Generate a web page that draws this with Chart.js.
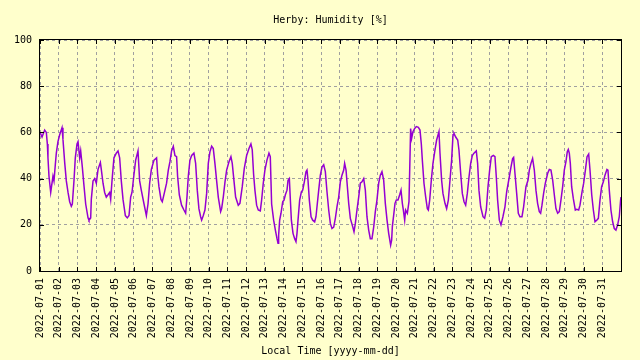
<!DOCTYPE html>
<html lang="en">
<head>
<meta charset="UTF-8">
<title>Herby: Humidity</title>
<script src="https://cdn.jsdelivr.net/npm/chart.js"></script>
<style>
  html, body { margin: 0; padding: 0; background: #ffffcc; }
  #wrap { width: 640px; height: 360px; }
</style>
</head>
<body>
<div id="wrap"><canvas id="humidityChart" width="640" height="360"></canvas></div>
<script>
// tick labels, one per day (x axis is in hours since 2022-07-01 00:00)
const dayLabels = [
  '2022-07-01', '2022-07-02', '2022-07-03', '2022-07-04', '2022-07-05', '2022-07-06',
  '2022-07-07', '2022-07-08', '2022-07-09', '2022-07-10', '2022-07-11', '2022-07-12',
  '2022-07-13', '2022-07-14', '2022-07-15', '2022-07-16', '2022-07-17', '2022-07-18',
  '2022-07-19', '2022-07-20', '2022-07-21', '2022-07-22', '2022-07-23', '2022-07-24',
  '2022-07-25', '2022-07-26', '2022-07-27', '2022-07-28', '2022-07-29', '2022-07-30',
  '2022-07-31'
];

// readings: hour offset and relative humidity [%]
const hours = [
  0, 2.6, 6.0, 8.1, 9.4, 10.2, 11.5, 13.7, 16.6, 17.9, 19.6, 20.9, 23.0, 25.2, 28.2, 29.4,
  31.6, 33.7, 35.9, 38.0, 40.1, 41.4, 43.5, 45.2, 47.4, 48.7, 50.8, 52.1, 54.2, 56.3, 58.5,
  61.5, 62.7, 64.9, 65.7, 67.9, 70.0, 72.1, 74.3, 77.3, 78.5, 80.7, 82.8, 84.9, 87.1, 89.2,
  90.5, 92.2, 94.7, 97.7, 99.9, 102.0, 104.1, 106.3, 109.3, 111.8, 114.0, 116.1, 117.8,
  120.4, 122.5, 125.5, 127.6, 129.7, 133.2, 136.2, 138.3, 140.4, 142.6, 146.0,
  147.2, 149.3, 150.6, 152.3, 154.9, 156.6, 159.1, 162.1, 164.3, 166.4, 168.5, 170.7, 172.8,
  174.9, 176.2, 178.4, 181.3, 184.3, 186.5, 188.2, 189.9, 192.0, 194.2, 197.1, 199.3, 201.4,
  203.5, 205.7, 207.0, 209.1, 211.2, 213.4, 215.5, 217.6, 219.8, 221.9, 224.0, 226.2, 228.3,
  231.3, 232.6, 234.7, 236.9, 239.0, 242.0, 244.5, 246.2, 248.4, 250.5, 253.9, 256.0, 259.0,
  261.6, 264.6, 267.6, 270.1, 271.8, 273.5, 275.2, 277.4, 279.5, 282.1, 283.8, 285.9, 288.0,
  290.6, 293.2, 294.9, 296.6,
  299.2, 301.4, 303.5, 304.8, 305.6, 306.9, 308.6, 310.8, 312.5, 314.2, 316.3, 317.6, 319.3,
  320.6, 321.9, 324.0, 326.1, 327.8, 329.1, 330.4, 332.5, 334.7, 336.4, 338.5, 340.6, 341.9,
  343.2, 344.9, 347.1, 349.2, 351.7, 353.4, 354.7, 356.9, 359.0, 361.1, 363.3, 365.4, 367.5,
  369.7, 371.8, 373.9, 376.1, 378.2, 380.3, 382.5, 384.6, 386.7, 388.9, 390.1, 391.9, 393.6,
  395.3, 397.4, 400.4, 402.1, 403.8, 405.9, 408.1, 410.2, 412.3, 414.5, 416.6, 418.7, 420.9,
  423.0, 425.1, 427.3, 429.4, 431.5, 433.7, 435.8, 437.9, 440.1, 442.2, 444.4, 446.5,
  449.0, 450.3, 451.2, 452.9, 454.6, 456.3, 458.4, 460.6, 462.3, 464.0, 465.3, 467.0, 468.2,
  470.4, 472.5, 473.8, 474.6, 475.9, 477.6, 479.8, 481.9, 484.5, 486.6, 488.3, 489.6, 491.7,
  493.9, 496.0, 497.3, 499.0, 501.1, 503.2, 505.8, 507.9, 510.9, 512.2, 514.3, 516.0, 518.6,
  520.7, 522.9, 525.0, 527.1, 528.9, 530.1, 532.3, 534.9, 536.5, 538.7, 540.8, 543.0, 545.1,
  547.2, 549.4, 551.5, 553.6, 555.7, 558.7, 560.4, 562.1, 564.3, 567.3, 569.4, 571.5, 573.7,
  575.8, 577.9, 580.5, 582.6, 584.3, 586.0, 588.2, 590.3, 592.8, 595.4, 597.6,
  601.0, 603.1, 605.2, 606.5, 608.2, 610.4, 612.5, 614.6, 617.2, 619.3, 622.3, 624.9, 626.6,
  628.7, 630.8, 633.0, 635.1, 637.2, 639.4, 641.1, 642.8, 644.9, 647.1, 650.1, 652.2, 654.3,
  656.5, 658.6, 660.7, 662.9, 665.0, 667.1, 669.3, 671.4, 673.5, 675.2, 676.5, 677.8, 679.1,
  680.8, 682.9, 685.5, 687.2, 689.8, 691.5, 694.1, 696.2, 698.4, 700.5, 702.6, 704.3, 706.5,
  708.6, 710.7, 712.9, 715.0, 717.1, 719.2, 721.4, 723.5, 726.0, 727.3, 729.0, 731.1, 733.3,
  735.4, 737.5, 739.7, 741.8, 743.5, 744.0
];

const humidity = [
  60, 58, 61, 60, 55, 49, 41, 34, 41, 39, 46, 51, 56, 59, 62, 57,
  47, 39, 34, 30, 28, 29, 39, 49, 55, 56, 49, 52, 45, 37, 29,
  23, 22, 23, 31, 39, 40, 38, 44, 47, 44, 38, 34, 32, 33, 34,
  31, 39, 49, 51, 52, 49, 39, 31, 24, 23, 24, 32, 34,
  42, 48, 52, 39, 35, 29, 24, 29, 38, 44, 48,
  48, 49, 42, 36.5, 31, 30, 33.6, 38, 43.7, 47.3, 52, 54, 50,
  49.5, 41, 33, 28.5, 26.4, 25, 32, 41, 48, 50, 51, 46.6, 35,
  27, 23.5, 22, 24, 26.4, 33.6, 46.6, 51.6, 54, 53, 46.6, 39, 32,
  25.7, 27, 32, 38.6, 43.7, 47.3, 49.5, 46.6, 39, 32, 28.5, 29.3, 36.5,
  44.4, 50, 53, 55, 52.4, 42, 35, 28.5, 26.4, 26, 30.7, 38, 43.7,
  48, 51, 49.5, 29,
  22, 17.7, 14, 12, 15.6, 22, 25, 30, 30.7, 33, 35, 39.3, 40,
  30.7, 22, 16.3, 14, 12.7, 16.3, 22, 30.7, 34.3, 35, 38.6, 43, 43.7,
  39.3, 30.7, 23.5, 22, 21.3, 23.5, 27.8, 35, 41.5, 45, 46, 43, 34.3,
  26.4, 20.6, 18.4, 19, 22.8, 27.8, 32, 38.6, 41.5, 43.7, 46.6, 43.7, 36.5,
  29.3, 22.8, 19.2, 17, 20.6, 26.4, 32, 38, 38.6, 40, 35, 23.5, 17.7,
  14, 14, 19, 25.7, 30.7, 38, 41.5, 43, 39.3, 29.3, 22, 16.3,
  11.2, 13.4, 19.2, 24.2, 29.3, 30.7, 30.7, 33, 35, 29.3, 26.4, 22, 26.4,
  25, 30, 49.5, 61.7, 57.4, 60.3, 61.7, 62.5, 62.2, 61, 55, 48, 38,
  32, 27, 26.4, 30.7, 39.3, 46.6, 52.4, 56.7, 60.3, 51, 39.3, 33.6, 29.3,
  27, 30.7, 39.3, 48, 59, 59.6, 58, 56.7, 52.4, 42.3, 33.6, 30, 28.5,
  33.6, 40.8, 46.6, 50, 51, 52, 46.6, 35, 27.8, 23.5, 22.8, 26.4, 36.5,
  43.7, 49.5, 50, 49.5, 40.8, 30.7, 22, 20, 23.5, 27.8, 34.3,
  40.8, 45, 48.7, 49.2, 42.3, 33.6, 25, 23.5, 23.5, 27.8, 36.5, 39.3, 43.7,
  46.6, 48.7, 43.7, 35, 29.3, 25.7, 25, 28.5, 33.6, 38, 42.3, 44, 43.7,
  39.3, 33, 27, 25, 25.7, 30.7, 36.5, 43.7, 47.3, 51.6, 52.6, 51, 46.6,
  36.5, 31.4, 26.4, 26.7, 26.4, 28.5, 34.3, 38, 43.7, 49.5, 50.6, 43.7, 33,
  26.4, 21.3, 22, 22.8, 30.7, 36.5, 38.6, 41.5, 44, 43.7, 35, 26.4, 21.3,
  18.4, 17.7, 20, 23.5, 30.7, 32
];

const monoFont = "'DejaVu Sans Mono', monospace";

// background + gnuplot style frame with inward tics
const frame = {
  id: 'frame',
  beforeDraw(chart) {
    const ctx = chart.ctx;
    ctx.save();
    ctx.fillStyle = '#ffffcc';
    ctx.fillRect(0, 0, chart.width, chart.height);
    ctx.restore();
  },
  afterDatasetsDraw(chart) {
    const { ctx, chartArea: a, scales } = chart;
    ctx.save();
    ctx.strokeStyle = '#000';
    ctx.lineWidth = 1;
    ctx.beginPath();
    scales.y.ticks.forEach(t => {
      const y = Math.round(scales.y.getPixelForValue(t.value)) + 0.5;
      ctx.moveTo(a.left, y); ctx.lineTo(a.left + 4, y);
      ctx.moveTo(a.right, y); ctx.lineTo(a.right - 4, y);
    });
    scales.x.ticks.forEach(t => {
      const x = Math.round(scales.x.getPixelForValue(t.value)) + 0.5;
      ctx.moveTo(x, a.bottom); ctx.lineTo(x, a.bottom - 4);
      ctx.moveTo(x, a.top); ctx.lineTo(x, a.top + 4);
    });
    ctx.stroke();
    ctx.strokeRect(a.left - 0.5, a.top - 0.5, a.right - a.left + 1, a.bottom - a.top + 1);
    ctx.restore();
  }
};

const ctx = document.getElementById('humidityChart').getContext('2d');
const humidityChart = new Chart(ctx, {
  type: 'line',
  data: {
    datasets: [{
      label: 'Humidity',
      data: hours.map((h, i) => ({ x: h, y: humidity[i] })),
      borderColor: '#9400d3',
      borderWidth: 1.5,
      pointRadius: 0,
      tension: 0,
      fill: false
    }]
  },
  options: {
    responsive: false,
    animation: false,
    layout: { padding: { left: 0, right: 19, top: 0, bottom: 0 } },
    plugins: {
      legend: { display: false },
      tooltip: { enabled: false },
      title: {
        display: true,
        fullSize: false,
        text: 'Herby: Humidity [%]',
        color: '#000',
        font: { family: monoFont, size: 10, weight: 'normal' },
        padding: { top: 14, bottom: 14 }
      }
    },
    scales: {
      x: {
        type: 'linear',
        min: 0,
        max: 744,
        grid: { color: '#a0a0a0', drawTicks: false },
        border: { display: false, dash: [3, 3] },
        ticks: {
          stepSize: 24,
          maxTicksLimit: 40,
          autoSkip: false,
          maxRotation: 90,
          minRotation: 90,
          padding: 7,
          color: '#000',
          font: { family: monoFont, size: 10 },
          callback: (value) => dayLabels[value / 24] || ''
        },
        title: {
          display: true,
          text: 'Local Time [yyyy-mm-dd]',
          color: '#000',
          font: { family: monoFont, size: 10 },
          padding: { top: 0, bottom: 3 }
        },
        afterFit: (scale) => { scale.height = 89; }
      },
      y: {
        min: 0,
        max: 100,
        grid: { color: '#a0a0a0', drawTicks: false },
        border: { display: false, dash: [3, 3] },
        ticks: {
          stepSize: 20,
          padding: 8,
          color: '#000',
          font: { family: monoFont, size: 10 }
        },
        afterFit: (scale) => { scale.width = 40; }
      }
    }
  },
  plugins: [frame]
});
</script>
</body>
</html>
